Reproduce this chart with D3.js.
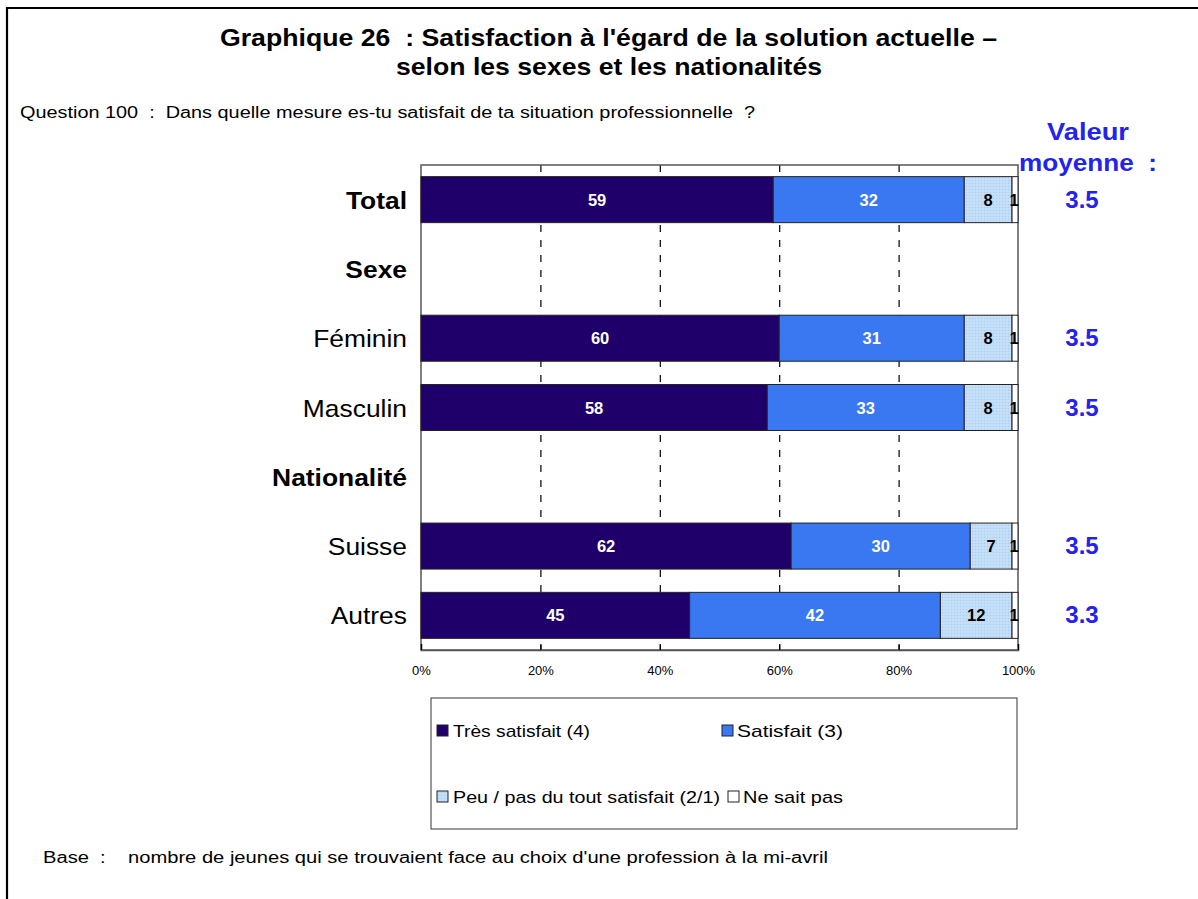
<!DOCTYPE html>
<html>
<head>
<meta charset="utf-8">
<script src="https://cdn.jsdelivr.net/npm/d3@7"></script>
<style>
  html, body { margin: 0; padding: 0; background: #fff; }
  svg { display: block; font-family: "Liberation Sans", Arial, sans-serif; }
  text { white-space: pre; }
</style>
</head>
<body>
<svg id="chart" width="1198" height="899"></svg>
<script>
// ---------- data ----------
const categories = ["Total", "Sexe", "Féminin", "Masculin", "Nationalité", "Suisse", "Autres"];
const boldCategories = ["Total", "Sexe", "Nationalité"];
const seriesNames = ["Très satisfait (4)", "Satisfait (3)", "Peu / pas du tout satisfait (2/1)", "Ne sait pas"];
const tresSatisfait = [59, null, 60, 58, null, 62, 45];
const satisfait     = [32, null, 31, 33, null, 30, 42];
const peuPas        = [8,  null, 8,  8,  null, 7,  12];
const neSaitPas     = [1,  null, 1,  1,  null, 1,  1];
const meanValues    = ["3.5", null, "3.5", "3.5", null, "3.5", "3.3"];
const xTicks = [0, 20, 40, 60, 80, 100];

const seriesColors = ["#1f006b", "#3a78f2", "#c2ddf8", "#ffffff"];
const labelColors = ["#ffffff", "#ffffff", "#000000", "#000000"];

// ---------- setup ----------
const svg = d3.select("#chart");
const plot = { left: 421, right: 1018, top: 165, bottom: 650 };

const x = d3.scaleLinear().domain([0, 100]).range([plot.left, plot.right]);
const y = d3.scaleBand().domain(categories).range([plot.top, plot.bottom])
  .paddingInner(0.336).paddingOuter(0.168);

// stretch helper (reference glyphs are wider than the available fonts)
function stretch(sel, w) {
  sel.attr("textLength", w).attr("lengthAdjust", "spacingAndGlyphs");
  return sel;
}

// pattern for light series
const defs = svg.append("defs");
const pat = defs.append("pattern").attr("id", "dots")
  .attr("width", 3).attr("height", 3).attr("patternUnits", "userSpaceOnUse");
pat.append("rect").attr("width", 3).attr("height", 3).attr("fill", "#c2ddf8");
pat.append("rect").attr("x", 0).attr("y", 0).attr("width", 1).attr("height", 1).attr("fill", "#a9cdf2");
pat.append("rect").attr("x", 1.5).attr("y", 1.5).attr("width", 1).attr("height", 1).attr("fill", "#d4e8fb");

// outer frame
svg.append("path")
  .attr("d", "M7,899 L7,8 L1198,8")
  .attr("fill", "none").attr("stroke", "#000").attr("stroke-width", 2.2);

// title
svg.append("text").attr("x", 220).attr("y", 46).attr("font-weight", "bold")
  .attr("font-size", 24).attr("fill", "#000")
  .text("Graphique 26  : Satisfaction à l'égard de la solution actuelle –")
  .call(stretch, 777);
svg.append("text").attr("x", 396).attr("y", 75).attr("font-weight", "bold")
  .attr("font-size", 24).attr("fill", "#000")
  .text("selon les sexes et les nationalités")
  .call(stretch, 426);

svg.append("text").attr("x", 20).attr("y", 118).attr("font-size", 16)
  .text("Question 100  :  Dans quelle mesure es-tu satisfait de ta situation professionnelle  ?")
  .call(stretch, 735);

// valeur moyenne header
svg.append("text").attr("x", 1047).attr("y", 140).attr("font-weight", "bold").attr("font-size", 24)
  .attr("fill", "#2323ee").text("Valeur").call(stretch, 82);
svg.append("text").attr("x", 1019).attr("y", 171).attr("font-weight", "bold").attr("font-size", 24)
  .attr("fill", "#2323ee").text("moyenne  :").call(stretch, 138);

// gridlines
svg.append("g").selectAll("line").data(xTicks.filter(d => d > 0 && d < 100)).join("line")
  .attr("x1", d => x(d) + 0.5).attr("x2", d => x(d) + 0.5)
  .attr("y1", plot.top).attr("y2", plot.bottom)
  .attr("stroke", "#000").attr("stroke-width", 1.2).attr("stroke-dasharray", "7,8");

// plot frame
svg.append("rect").attr("x", plot.left).attr("y", plot.top)
  .attr("width", plot.right - plot.left).attr("height", plot.bottom - plot.top)
  .attr("fill", "none").attr("stroke", "#555").attr("stroke-width", 1.5);

// stacked bars
const rows = categories.map((c, i) => ({
  cat: c,
  vals: [tresSatisfait[i], satisfait[i], peuPas[i], neSaitPas[i]]
}));
const stack = [];
rows.forEach(r => {
  if (r.vals[0] == null) return;
  let acc = 0;
  r.vals.forEach((v, k) => {
    stack.push({ cat: r.cat, k, v, x0: acc, x1: acc + v });
    acc += v;
  });
});

const gBars = svg.append("g");
gBars.selectAll("rect").data(stack).join("rect")
  .attr("x", d => x(d.x0))
  .attr("y", d => y(d.cat))
  .attr("width", d => x(d.x1) - x(d.x0))
  .attr("height", y.bandwidth())
  .attr("fill", d => d.k === 2 ? "url(#dots)" : seriesColors[d.k])
  .attr("stroke", "#222").attr("stroke-width", 1);

gBars.selectAll("text").data(stack).join("text")
  .attr("x", d => d.k === 3 ? x(d.x0) + 2 : (x(d.x0) + x(d.x1)) / 2)
  .attr("y", d => y(d.cat) + y.bandwidth() / 2 + 6)
  .attr("text-anchor", "middle")
  .attr("font-weight", "bold").attr("font-size", 16.5)
  .attr("fill", d => labelColors[d.k])
  .text(d => d.v);

// category labels (horizontally widened like the reference)
svg.append("g").selectAll("text").data(categories).join("text")
  .attr("transform", d => `translate(407,${y(d) + y.bandwidth() / 2 + 9}) scale(1.1,1)`)
  .attr("text-anchor", "end").attr("font-size", 24)
  .attr("font-weight", d => boldCategories.includes(d) ? "bold" : "normal")
  .attr("fill", "#000")
  .text(d => d);

// mean values
svg.append("g").selectAll("text").data(categories.map((c, i) => ({ c, m: meanValues[i] })).filter(d => d.m))
  .join("text")
  .attr("x", 1082).attr("y", d => y(d.c) + y.bandwidth() / 2 + 8)
  .attr("text-anchor", "middle").attr("font-size", 24).attr("font-weight", "bold")
  .attr("fill", "#2323ee").text(d => d.m);

// x axis
const xAxis = d3.axisBottom(x).tickValues(xTicks).tickFormat(d => d + "%").tickSize(-6).tickPadding(16);
const gx = svg.append("g").attr("transform", `translate(0,${plot.bottom})`).call(xAxis);
gx.select(".domain").attr("stroke", "#555").attr("stroke-width", 1.5);
gx.selectAll(".tick line").attr("stroke", "#000").attr("stroke-width", 1.2);
gx.selectAll(".tick text").attr("font-size", 13).attr("fill", "#000")
  .attr("font-family", "Liberation Sans, Arial, sans-serif");

// legend
svg.append("rect").attr("x", 431).attr("y", 698).attr("width", 586).attr("height", 131)
  .attr("fill", "#fff").attr("stroke", "#555").attr("stroke-width", 1.2);
const legendPos = [
  { sx: 437, tx: 453, y: 731, w: 137 },
  { sx: 722, tx: 737, y: 731, w: 106 },
  { sx: 437, tx: 453, y: 797, w: 267 },
  { sx: 728, tx: 743, y: 797, w: 100 }
];
const lg = svg.append("g").selectAll("g").data(seriesNames).join("g");
lg.append("rect")
  .attr("x", (d, i) => legendPos[i].sx).attr("y", (d, i) => legendPos[i].y - 6)
  .attr("width", 11).attr("height", 11)
  .attr("fill", (d, i) => i === 2 ? "url(#dots)" : seriesColors[i])
  .attr("stroke", "#222").attr("stroke-width", 1);
lg.append("text")
  .attr("x", (d, i) => legendPos[i].tx).attr("y", (d, i) => legendPos[i].y + 6)
  .attr("font-size", 17).attr("fill", "#000").text(d => d)
  .attr("textLength", (d, i) => legendPos[i].w).attr("lengthAdjust", "spacingAndGlyphs");

// footer
svg.append("text").attr("x", 43).attr("y", 863).attr("font-size", 16)
  .text("Base  :    nombre de jeunes qui se trouvaient face au choix d'une profession à la mi-avril")
  .call(stretch, 785);
</script>
</body>
</html>
